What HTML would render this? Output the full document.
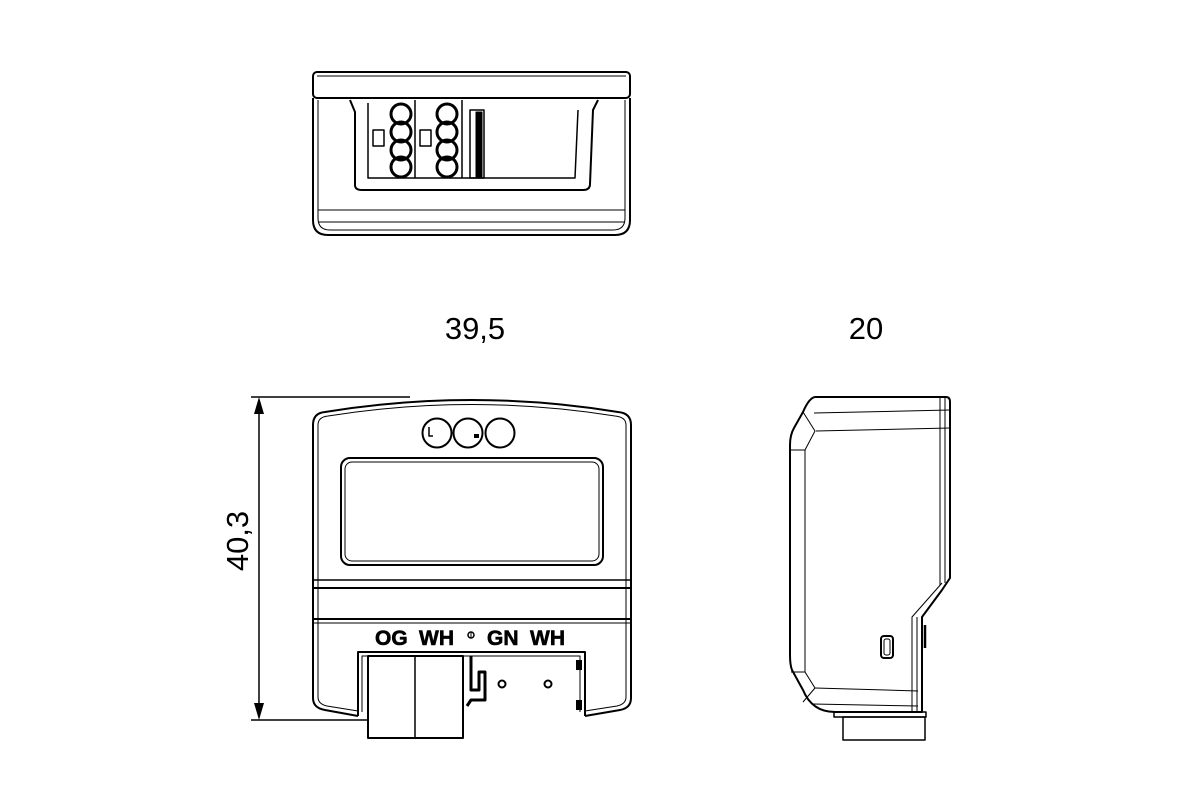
<!DOCTYPE html>
<html><head><meta charset="utf-8"><style>
html,body{margin:0;padding:0;background:#fff;}
svg{display:block}
text{font-family:"Liberation Sans",sans-serif;fill:#000}
</style></head><body>
<svg width="1200" height="800" viewBox="0 0 1200 800" xmlns="http://www.w3.org/2000/svg">
<g fill="none" stroke="#000" stroke-width="2" stroke-linejoin="round">
<!-- TOP VIEW -->
<rect x="313" y="72" width="317" height="26" rx="4"/>
<line x1="317" y1="76" x2="626" y2="76" stroke-width="1"/>
<path d="M313,98 L313,220 Q313,235 328,235 L615,235 Q630,235 630,220 L630,98"/>
<path d="M318,100 L318,218 Q318,230 330,230 L613,230 Q625,230 625,218 L625,100" stroke-width="1"/>
<line x1="318" y1="210" x2="625" y2="210" stroke-width="1"/>
<line x1="318" y1="222" x2="625" y2="222" stroke-width="1"/>
<path d="M350,100 L355,112 L355,185 Q355,190 362,190 L583,190 Q590,190 590,184 L593,110 L598,100"/>
<path d="M368,103 L368,178 L575,178 L578,110" stroke-width="1.5"/>
<line x1="415" y1="100" x2="415" y2="178" stroke-width="1.5"/>
<line x1="462" y1="100" x2="462" y2="178" stroke-width="1.5"/>
<rect x="470" y="110" width="14" height="68" stroke-width="1.5"/>
<rect x="476" y="112" width="6" height="66" fill="#000" stroke-width="1"/>
<rect x="373" y="130" width="11" height="16" stroke-width="1.5"/>
<rect x="420" y="130" width="11" height="16" stroke-width="1.5"/>
<g stroke-width="3">
<circle cx="401" cy="114" r="10"/><circle cx="401" cy="132" r="10"/><circle cx="401" cy="150" r="10"/><circle cx="401" cy="167" r="10"/>
<circle cx="447" cy="114" r="10"/><circle cx="447" cy="132" r="10"/><circle cx="447" cy="150" r="10"/><circle cx="447" cy="167" r="10"/>
</g>
<line x1="395" y1="123" x2="407" y2="123" stroke-width="1"/><line x1="395" y1="141" x2="407" y2="141" stroke-width="1"/><line x1="395" y1="159" x2="407" y2="159" stroke-width="1"/>
<line x1="441" y1="123" x2="453" y2="123" stroke-width="1"/><line x1="441" y1="141" x2="453" y2="141" stroke-width="1"/><line x1="441" y1="159" x2="453" y2="159" stroke-width="1"/>

<!-- FRONT VIEW -->
<line x1="251" y1="397" x2="410" y2="397" stroke-width="1.5"/>
<line x1="251" y1="720" x2="410" y2="720" stroke-width="1.5"/>
<line x1="259" y1="412" x2="259" y2="705" stroke-width="1.5"/>
<polygon points="259,397 254,414 264,414" fill="#000" stroke="none"/>
<polygon points="259,720 254,703 264,703" fill="#000" stroke="none"/>
<path d="M358,716 L325,710 Q313,708 313,698 L313,425 Q313,413 325,412 Q472,388 618,412 Q631,413 631,425 L631,698 Q631,708 620,710 L585,716"/>
<path d="M358,711 L327,706 Q318,704 318,697 L318,425 Q318,417 328,416 Q472,393 615,416 Q626,417 626,425 L626,697 Q626,704 617,706 L585,711" stroke-width="1"/>
<circle cx="437" cy="433" r="14.5"/><circle cx="468" cy="433" r="14.5"/><circle cx="500" cy="433" r="14.5"/>
<path d="M429,427 L429,436 L433,436" stroke-width="1.5"/>
<rect x="474" y="434" width="5" height="4" fill="#000" stroke="none"/>
<rect x="341" y="458" width="262" height="107" rx="9"/>
<rect x="345" y="462" width="254" height="99" rx="7" stroke-width="1"/>
<line x1="313" y1="580" x2="631" y2="580" stroke-width="1.5"/>
<line x1="313" y1="588" x2="631" y2="588"/>
<line x1="313" y1="619" x2="631" y2="619"/>
<line x1="313" y1="623" x2="631" y2="623" stroke-width="1"/>
<path d="M358,716 L358,652 L585,652 L585,716"/>
<path d="M362,712 L362,656 L580,656 L580,712" stroke-width="1"/>
<rect x="368" y="656" width="95" height="82" fill="#fff"/>
<line x1="415" y1="656" x2="415" y2="738" stroke-width="1.5"/>
<path d="M471,656 L471,690 L479,690 L479,672 L485,672 L485,700 L471,700 L467,706" stroke-width="3"/>
<circle cx="502" cy="684" r="3.5"/><circle cx="548" cy="684" r="3.5"/>
<rect x="576" y="660" width="6" height="10" fill="#000" stroke="none"/>
<rect x="576" y="700" width="6" height="10" fill="#000" stroke="none"/>
<circle cx="471" cy="635" r="3" stroke-width="1.5"/>
<line x1="471" y1="632" x2="471" y2="638" stroke-width="1"/>

<!-- SIDE VIEW -->
<path d="M815,397 L946,397 Q950,397 950,402 L950,578 L942,590 L922,617 L922,712 L835,712 Q812,712 803,690 L792,670 Q790,665 790,655 L790,445 Q790,435 794,428 L803,412 Q809,398 815,397 Z"/>
<line x1="814" y1="413" x2="950" y2="410" stroke-width="1"/>
<line x1="816" y1="431" x2="950" y2="428" stroke-width="1"/>
<line x1="940" y1="397" x2="940" y2="585" stroke-width="1"/>
<line x1="945" y1="397" x2="945" y2="583" stroke-width="1"/>
<path d="M791,450 L805,450 L815,431 L803,412" stroke-width="1"/>
<path d="M805,450 L805,672 L815,688 L803,702" stroke-width="1"/>
<line x1="791" y1="672" x2="805" y2="672" stroke-width="1"/>
<line x1="815" y1="688" x2="918" y2="691" stroke-width="1"/>
<line x1="813" y1="704" x2="918" y2="706" stroke-width="1"/>
<path d="M942,583 L912,617 L912,712" stroke-width="1"/>
<line x1="917" y1="617" x2="917" y2="712" stroke-width="1"/>
<rect x="881" y="636" width="12" height="22" rx="3"/>
<rect x="884" y="639" width="6" height="16" rx="2" stroke-width="1"/>
<line x1="925" y1="625" x2="925" y2="648" stroke-width="2.5"/>
<rect x="834" y="712" width="92" height="5" stroke-width="1.5"/>
<rect x="843" y="717" width="82" height="23" stroke-width="1.5"/>
</g>
<text x="475" y="339" font-size="31" text-anchor="middle">39,5</text>
<text x="866" y="339" font-size="31" text-anchor="middle">20</text>
<text x="0" y="0" font-size="31" text-anchor="middle" transform="translate(248,541) rotate(-90)">40,3</text>
<g font-size="21" font-weight="bold" stroke="#000" stroke-width="0.6">
<text x="375" y="645">OG</text>
<text x="419" y="645">WH</text>
<text x="487" y="645">GN</text>
<text x="530" y="645">WH</text>
</g>
</svg>
</body></html>
